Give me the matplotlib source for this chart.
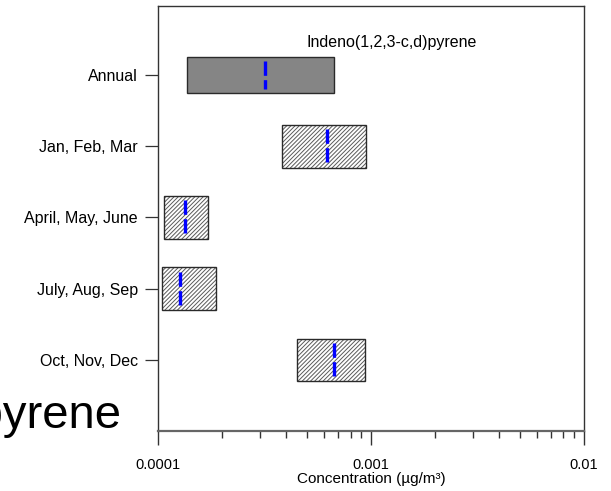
import numpy as np
import matplotlib
matplotlib.use("Agg")
import matplotlib.pyplot as plt
from matplotlib.ticker import FixedLocator, LogLocator, NullFormatter

plt.rcParams['font.family'] = ['Liberation Sans', 'DejaVu Sans']
plt.rcParams['hatch.linewidth'] = 0.7

# DATA (concentrations in ug/m3)
periods = ["Annual", "Jan, Feb, Mar", "April, May, June", "July, Aug, Sep", "Oct, Nov, Dec"]
low = [1.36e-4, 3.80e-4, 1.06e-4, 1.04e-4, 4.48e-4]
high = [6.70e-4, 9.42e-4, 1.71e-4, 1.86e-4, 9.32e-4]
median = [3.18e-4, 6.23e-4, 1.34e-4, 1.26e-4, 6.69e-4]
x_ticks = [1e-4, 1e-3, 1e-2]
x_tick_labels = ["0.0001", "0.001", "0.01"]
compound = "Indeno(1,2,3-c,d)pyrene"

fig = plt.figure(figsize=(6.11, 4.91), dpi=100)
ax = fig.add_axes([0.259, 0.122, 0.697, 0.866])

ypos = np.arange(len(periods))
heights = [0.51, 0.6, 0.6, 0.6, 0.6]

for i, name in enumerate(periods):
    lo, hi, h = low[i], high[i], heights[i]
    if i == 0:
        # annual bar is a solid gray box
        ax.barh(ypos[i], hi - lo, left=lo, height=h, color="#858585",
                edgecolor="#2a2a2a", linewidth=1.0, zorder=2)
    else:
        # seasonal bars are hatched
        ax.barh(ypos[i], hi - lo, left=lo, height=h, color="white",
                edgecolor="#5a5a5a", hatch="////////", linewidth=0, zorder=2)
        ax.barh(ypos[i], hi - lo, left=lo, height=h, fill=False,
                edgecolor="#2a2a2a", linewidth=1.0, zorder=3)
    half = h / 2 - 0.06
    ax.plot([median[i], median[i]], [ypos[i] - half, ypos[i] + half],
            color="#0000ff", linewidth=2.4, dashes=(4.3, 1.3),
            solid_capstyle="butt", dash_capstyle="butt", zorder=4)

ax.set_xscale("log")
ax.set_xlim(1e-4, 1e-2)
ax.set_ylim(5.0, -0.97)

ax.xaxis.set_major_locator(FixedLocator(x_ticks))
ax.set_xticklabels(x_tick_labels)
ax.xaxis.set_minor_locator(LogLocator(base=10, subs=np.arange(2, 10)))
ax.xaxis.set_minor_formatter(NullFormatter())
ax.tick_params(axis="x", which="major", direction="out", length=10, width=1,
               color="#333333", labelsize=10.5, pad=9.5)
ax.tick_params(axis="x", which="minor", direction="out", length=5, width=1,
               color="#333333")

ax.set_yticks(ypos)
ax.set_yticklabels(periods)
ax.tick_params(axis="y", direction="out", length=9.5, width=0.9,
               color="#333333", labelsize=11.5, pad=5)
ax.tick_params(top=False, right=False)

for side in ["top", "right", "left"]:
    ax.spines[side].set_color("#333333")
    ax.spines[side].set_linewidth(1.0)
ax.spines["bottom"].set_color("#666666")
ax.spines["bottom"].set_linewidth(1.6)

ax.set_xlabel("Concentration (\u00b5g/m\u00b3)", fontsize=11, labelpad=0)

ax.text(0.547, 0.913, compound, transform=ax.transAxes, ha="center",
        va="center", fontsize=11.5)

# large title that got clipped on the left edge of the original figure
fig.text(122 / 611, 1 - 428 / 491, compound, ha="right", va="baseline",
         fontsize=34)

fig.savefig("out.png", dpi=100)
